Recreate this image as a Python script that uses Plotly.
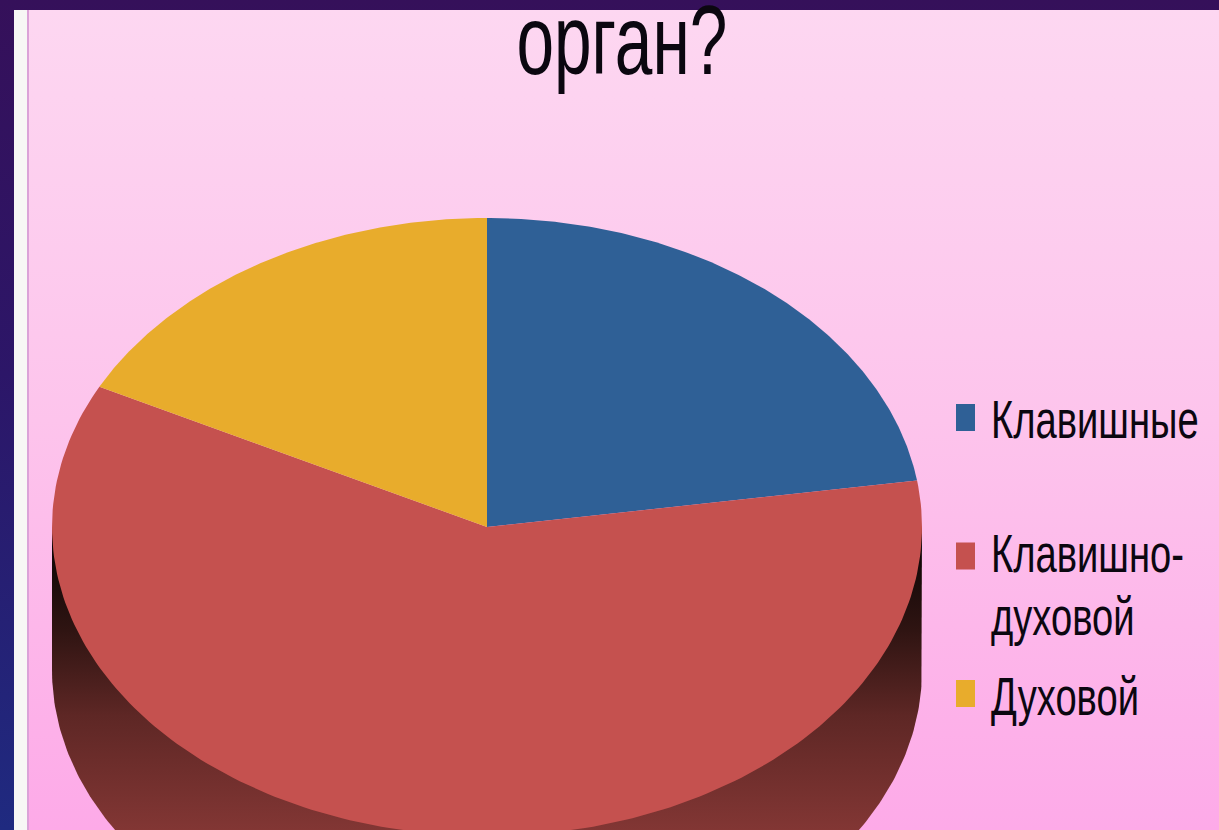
import numpy as np
import plotly.graph_objects as go

# Data
categories = ["Клавишные", "Клавишно-<br>духовой", "Духовой"]
values = [22.6, 59.9, 17.5]
slice_colors = ["#2f6096", "#c5514f", "#e8ac2c"]
title_text = "орган?"

W, H = 1219, 830
CX, CY, RX, RY, DEPTH = 487, 527, 435, 309, 143


def rect_trace(x0, x1, y0, y1, stops=None, color=None):
    t = dict(x=[x0, x1, x1, x0, x0], y=[y0, y0, y1, y1, y0], mode="lines",
             line=dict(width=0), fill="toself", hoverinfo="skip", showlegend=False)
    if stops:
        t["fillgradient"] = dict(type="vertical", colorscale=stops, start=y0, stop=y1)
        t["fillcolor"] = "rgba(0,0,0,0)"
    else:
        t["fillcolor"] = color
    return go.Scatter(**t)


def ell(theta, cy=CY):
    return CX + RX * np.sin(theta), cy - RY * np.cos(theta)


fig = go.Figure()

# Slide surround and panel
fig.add_trace(rect_trace(0, W, 0, H, stops=[[0, "#35105a"], [0.45, "#2c1668"], [1, "#1f2a80"]]))
fig.add_trace(rect_trace(14, W, 10, H, color="#f7f7f5"))
fig.add_trace(rect_trace(27, 29, 10, H, color="#dba2d8"))
fig.add_trace(rect_trace(29, W, 10, H, stops=[[0, "#fdd7f1"], [0.5, "#fdc4ec"], [1, "#fdaae8"]]))

# Side wall of the pie
t = np.linspace(np.pi / 2, 3 * np.pi / 2, 240)
wx, wy = ell(t, CY + DEPTH)
wall_x = np.concatenate([[CX + RX], wx, [CX - RX]])
wall_y = np.concatenate([[CY], wy, [CY]])
fig.add_trace(go.Scatter(
    x=wall_x, y=wall_y, mode="lines", line=dict(width=0), fill="toself",
    fillcolor="rgba(0,0,0,0)", hoverinfo="skip", showlegend=False,
    fillgradient=dict(type="vertical", start=545, stop=830,
                      colorscale=[[0, "#0e0606"], [0.3, "#2f1412"], [0.6, "#5e2725"], [1, "#823634"]]),
))

# Top face slices, driven by the values
fracs = np.array(values) / sum(values)
edges = np.concatenate([[0], np.cumsum(fracs)]) * 2 * np.pi
for i, (name, col) in enumerate(zip(categories, slice_colors)):
    th = np.linspace(edges[i], edges[i + 1], 200)
    ex, ey = ell(th)
    fig.add_trace(go.Scatter(
        x=np.concatenate([[CX], ex, [CX]]), y=np.concatenate([[CY], ey, [CY]]),
        mode="lines", line=dict(width=0), fill="toself", fillcolor=col,
        name=name.replace("<br>", ""), showlegend=False,
    ))

# Legend keys (tall rectangles in the stretched reference)
key_centres = [417.5, 556, 693.5]
for yc, col in zip(key_centres, slice_colors):
    fig.add_trace(rect_trace(956, 975, yc - 13.5, yc + 13.5, color=col))

# Legend texts, one annotation per line because the reference line pitch is tight
legend_line_y = [[419.5], [553.5, 616.5], [696.5]]
annotations = []
for c, ys in zip(categories, legend_line_y):
    for part, yy in zip(c.split("<br>"), ys):
        annotations.append(dict(x=989, y=yy, xref="x", yref="y", text=part, showarrow=False,
                                xanchor="left", yanchor="middle", align="left",
                                font=dict(family="Liberation Sans", size=53, color="#0b0710")))
annotations.append(dict(x=622, y=40, xref="x", yref="y", text=title_text, showarrow=False,
                        xanchor="center", yanchor="middle",
                        font=dict(family="Liberation Sans", size=98, color="#0b0710")))

fig.update_layout(
    width=W, height=H, margin=dict(l=0, r=0, t=0, b=0), showlegend=False,
    paper_bgcolor="#fdc4ec", plot_bgcolor="#fdc4ec", annotations=annotations,
    xaxis=dict(range=[0, W], visible=False, fixedrange=True),
    yaxis=dict(range=[H, 0], visible=False, fixedrange=True),
)

# The reference text is horizontally squeezed; page margin removed so the figure fills the window.
post = """
document.documentElement.style.margin='0';document.body.style.margin='0';
document.body.style.overflow='hidden';
var g=document.querySelectorAll('.annotation-text');
g.forEach(function(t){
  var isTitle=t.textContent.indexOf('орган')>=0;
  t.style.transformBox='fill-box';
  t.style.transformOrigin=isTitle?'center':'left center';
  t.style.transform='scaleX('+(isTitle?0.69:0.72)+')';
});
"""
fig.write_html("out.html", config=dict(displayModeBar=False), post_script=post)
